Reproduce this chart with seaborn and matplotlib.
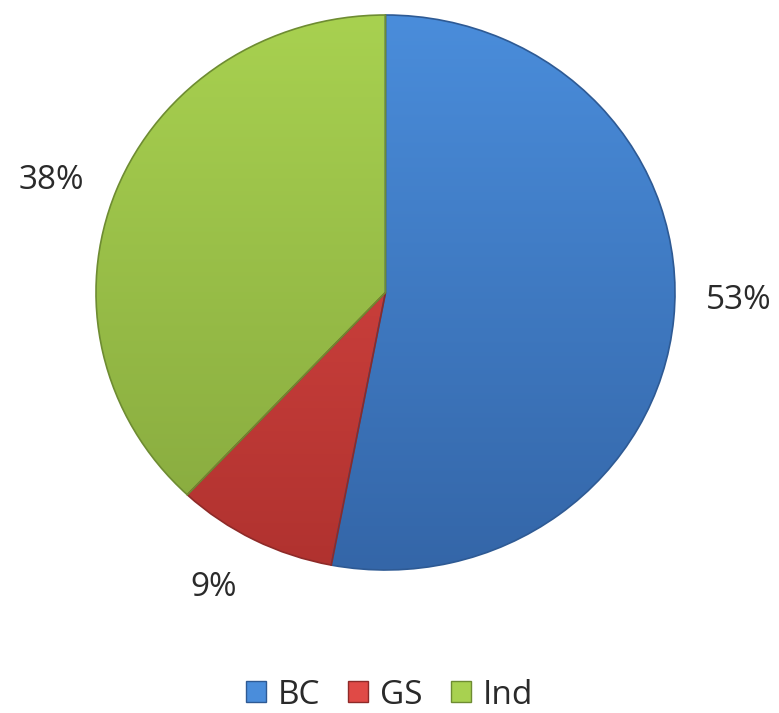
import numpy as np
import matplotlib
matplotlib.use("Agg")
import matplotlib.pyplot as plt
import seaborn as sns
from matplotlib.colors import LinearSegmentedColormap

# -------------------------------
# Data
# -------------------------------
categories = ["BC", "GS", "Ind"]
shares = [53, 9, 38]
top_colors = ["#4A8DDB", "#E04A46", "#A8D150"]
bottom_colors = ["#3466A8", "#B0322F", "#86A83E"]
edge_colors = ["#2E5A94", "#8E2A28", "#6E8C32"]

sns.set_style("white")
plt.rcParams["font.family"] = ["Open Sans", "DejaVu Sans"]

W, H = 779, 713
fig = plt.figure(figsize=(W / 100, H / 100), dpi=100)

# pie box in pixels (slightly wider than tall, like the original)
left, right, top, bottom = 96, 675, 15, 570
ax = fig.add_axes([left / W, 1 - bottom / H, (right - left) / W, (bottom - top) / H])

wedges, texts, autotexts = ax.pie(
    shares,
    startangle=90,
    counterclock=False,
    colors=top_colors,
    autopct=lambda p: f"{p:.0f}%",
    pctdistance=1.2,
    wedgeprops=dict(edgecolor="none"),
    textprops=dict(fontsize=24, color="#2a2a2a"),
)
ax.set_aspect("auto")

# label spots, as placed in the original
label_pos = [(1.219, -0.029), (-0.594, -1.064), (-1.153, 0.402)]
for t, pos in zip(autotexts, label_pos):
    t.set_position(pos)
    t.set_va("center")
    t.set_ha("center")

# vertical gradient fill, clipped to each wedge
grad = np.linspace(0, 1, 256).reshape(-1, 1)
for w, c1, c2, ec in zip(wedges, top_colors, bottom_colors, edge_colors):
    cmap = LinearSegmentedColormap.from_list("g", [c1, c2])
    im = ax.imshow(grad, cmap=cmap, extent=(-1, 1, -1, 1), aspect="auto",
                   origin="upper", zorder=w.get_zorder() + 0.1)
    im.set_clip_path(w)
    w.set_facecolor("none")
    w.set_edgecolor(ec)
    w.set_linewidth(1.2)
    w.set_zorder(im.get_zorder() + 0.1)
ax.set_xlim(-1, 1)
ax.set_ylim(-1, 1)
ax.axis("off")

legend_handles = [plt.Rectangle((0, 0), 1, 1, facecolor=c, edgecolor=e)
                  for c, e in zip(top_colors, edge_colors)]
leg = fig.legend(legend_handles, categories, loc="center", bbox_to_anchor=(0.5, 1 - 695 / H),
                 ncol=3, frameon=False, fontsize=24, handlelength=0.6, handleheight=0.6,
                 handletextpad=0.35, columnspacing=0.85)
for t in leg.get_texts():
    t.set_color("#2a2a2a")

plt.savefig("out.png", dpi=100)
